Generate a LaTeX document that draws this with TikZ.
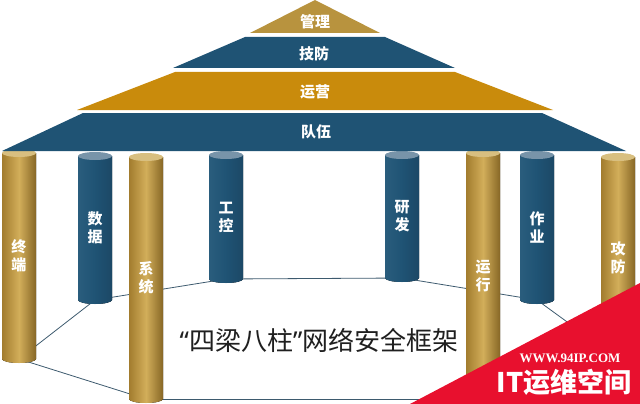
\documentclass[tikz,border=0pt]{standalone}
\usepackage{fontspec}
\setmainfont{Noto Sans CJK SC}
\newfontfamily\wwwfont{Liberation Serif}
\newfontfamily\quotefont{Noto Sans}
\usetikzlibrary{backgrounds}

\definecolor{roofgold}{HTML}{B8933E}
\definecolor{roofblue}{HTML}{1F5374}
\definecolor{rooforange}{HTML}{C98B0C}
\definecolor{colgoldA}{HTML}{A27C2E}
\definecolor{colgoldB}{HTML}{D2AE5A}
\definecolor{colgoldC}{HTML}{876726}
\definecolor{colgoldtop}{HTML}{D8BF80}
\definecolor{colblueA}{HTML}{2A5D7D}
\definecolor{colblueB}{HTML}{1C4866}
\definecolor{colbluetop}{HTML}{7894A9}
\definecolor{baseline}{HTML}{3D5A6E}
\definecolor{wmred}{HTML}{E8102E}

\tikzset{
  goldbody/.style={left color=colgoldA, right color=colgoldC, middle color=colgoldB},
  goldcap/.style={fill=colgoldtop},
  bluebody/.style={left color=colblueA, right color=colblueB, middle color=roofblue},
  bluecap/.style={fill=colbluetop},
  rooftext/.style={text=white, font=\bfseries\fontsize{15}{18}\selectfont},
  pillartext/.style={text=white, align=center, inner sep=0pt, font=\bfseries\fontsize{15}{18}\selectfont},
  edge/.style={draw=baseline, line width=0.8pt}
}

\newcommand\pillar[6]{%
  \fill[#5body] (#2-17,#3) -- (#2-17,#4) arc[start angle=180, end angle=0, x radius=17, y radius=4] -- (#2+17,#3) -- cycle;
  \fill[#5cap] (#2,#3) ellipse[x radius=17, y radius=4];
  \node[pillartext] (#1) at (#2,{(#3+#4)/2}) {#6};
  \coordinate (#1b) at (#2,#4);
}

\begin{document}
\begin{tikzpicture}[x=1pt,y=-1pt]
\useasboundingbox (0,0) rectangle (640,404);

\pillar{sj}{95}{156}{300}{blue}{数\\据}
\pillar{gk}{226}{155}{279}{blue}{工\\控}
\pillar{yf}{402}{155}{278}{blue}{研\\发}
\pillar{zy}{537}{155}{300}{blue}{作\\业}
\pillar{zd}{19}{153}{359}{gold}{终\\端}
\pillar{xt}{146}{157}{399}{gold}{系\\统}
\pillar{yx}{483}{153}{399}{gold}{运\\行}
\pillar{gf}{618}{157}{359}{gold}{攻\\防}

\begin{pgfonlayer}{background}
\draw[edge] (zdb) -- (sjb);
\draw[edge] (sjb) -- (gkb);
\draw[edge] (gkb) -- (yfb);
\draw[edge] (yfb) -- (zyb);
\draw[edge] (zyb) -- (gfb);
\draw[edge] (gfb) -- (yxb);
\draw[edge] (yxb) -- (xtb);
\draw[edge] (xtb) -- (zdb);
\end{pgfonlayer}

\fill[roofgold] (315,0) -- (380,33) -- (250,33) -- cycle;
\fill[roofblue] (245,37) -- (385,37) -- (455,68) -- (173,68) -- cycle;
\fill[rooforange] (175,72) -- (455,72) -- (553,110) -- (77,110) -- cycle;
\fill[roofblue] (83,113) -- (542,113) -- (626,151) -- (2,151) -- cycle;

\node[rooftext] (gl) at (315,22) {管理};
\node[rooftext] (jf) at (314,54) {技防};
\node[rooftext] (yy) at (315,92) {运营};
\node[rooftext] (dw) at (316,132) {队伍};

\node[text=black!88, font=\fontsize{26}{30}\selectfont] (title) at (319,340) {{\quotefont “}四梁八柱{\quotefont ”}网络安全框架};

\fill[wmred] (410,404) -- (640,283) -- (640,404) -- cycle;
\node[text=white, font=\wwwfont\bfseries\fontsize{13}{15}\selectfont] (www) at (570,358) {WWW.94IP.COM};
\node[text=white, font=\bfseries\fontsize{27}{30}\selectfont] (ityw) at (564,382) {IT运维空间};
\end{tikzpicture}
\end{document}
